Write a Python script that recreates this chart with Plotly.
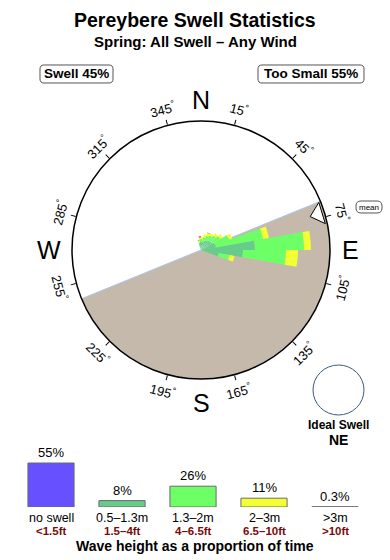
import math
import plotly.graph_objects as go

W, H = 390, 560
FONT = "Liberation Sans, Arial, Helvetica, sans-serif"

# ---------------- data ----------------
title_text = "Pereybere Swell Statistics"
subtitle_text = "Spring: All Swell – Any Wind"
swell_pct = 45
too_small_pct = 55
ideal_swell = "NE"

# swell rose: direction bins (deg, centre) and stacked percentages per height band
directions = [345, 355, 5, 15, 25, 35, 45, 55, 65, 75, 85, 95, 105]
band_05_13 = [0.56, 0.74, 0.74, 0.84, 0.93, 1.02, 1.12, 1.21, 1.40, 1.40, 5.02, 3.90, 1.67]
band_13_2 = [0.19, 0.28, 0.28, 0.37, 0.47, 0.56, 0.65, 0.84, 1.40, 4.45, 4.56, 4.00, 1.02]
band_2_3 = [0.14, 0.14, 0.19, 0.28, 0.28, 0.23, 0.28, 0.28, 0.28, 0.56, 0.65, 1.12, 0.47]
band_3p = [0.05, 0.14, 0.00, 0.00, 0.05, 0.00, 0.00, 0.00, 0.00, 0.00, 0.00, 0.00, 0.00]
band_names = ["0.5–1.3m", "1.3–2m", "2–3m", ">3m"]
rose_max = 12.0

land_start = 67.8   # land sector from this bearing clockwise ...
land_end = 247.8    # ... to this bearing
mean_dir = 73

tick_dirs = [15, 45, 75, 105, 135, 165, 195, 225, 255, 285, 315, 345]
cardinals = ["N", "E", "S", "W"]
cardinal_dirs = [0, 90, 180, 270]

# summary bars
categories = ["no swell", "0.5–1.3m", "1.3–2m", "2–3m", ">3m"]
feet_labels = ["<1.5ft", "1.5–4ft", "4–6.5ft", "6.5–10ft", ">10ft"]
proportions = [55, 8, 26, 11, 0.3]
prop_labels = ["55%", "8%", "26%", "11%", "0.3%"]

# ---------------- styles ----------------
band_colors = ["#66cc8a", "#6cff66", "#f4ff33", "#ee5533"]
summary_colors = ["#6650ff", "#66cc8a", "#6cff66", "#f4ff33", "#d8a8a8"]
land_color = "#c5b9ac"
coast_color = "#a9c8ea"
dark_red = "#7a0a0a"

CX, CY, CR = 201, 250, 129   # compass centre / radius in pixels


def px(x):
    return x / W


def py(y):
    return 1 - y / H


fig = go.Figure()

# land sector
fig.add_trace(go.Barpolar(
    r=[rose_max], theta=[(land_start + land_end) / 2], width=[land_end - land_start],
    marker=dict(color=land_color, line=dict(color=coast_color, width=1)),
    hoverinfo="skip", showlegend=False))

# rose bars
for vals, name, col in zip([band_05_13, band_13_2, band_2_3, band_3p], band_names, band_colors):
    fig.add_trace(go.Barpolar(
        r=vals, theta=directions, width=[10] * len(directions), name=name,
        marker=dict(color=col, line=dict(width=0)), showlegend=False))

# mean arrow
fig.add_trace(go.Scatterpolar(
    r=[rose_max * 0.885, rose_max * 0.985, rose_max * 0.985, rose_max * 0.885],
    theta=[mean_dir, mean_dir - 5, mean_dir + 5, mean_dir],
    mode="lines", fill="toself", fillcolor="white",
    line=dict(color="black", width=1), showlegend=False, hoverinfo="skip"))

# summary bars
fig.add_trace(go.Bar(
    x=list(range(len(categories))), y=proportions, width=0.65,
    marker=dict(color=summary_colors, line=dict(color="#6a6a6a", width=1)),
    xaxis="x", yaxis="y", showlegend=False, cliponaxis=False))

ann = []
shapes = []


def text_at(x, y, text, size, color="black", angle=0, xref="paper", pad=1):
    return dict(x=x, y=y, xref=xref, yref="paper", text=text, textangle=angle,
                xanchor="center", yanchor="middle", showarrow=False, borderpad=pad,
                font=dict(size=size, color=color, family=FONT))


# titles
ann.append(text_at(0.5, py(20), "<b>%s</b>" % title_text, 19.5))
ann.append(text_at(0.5, py(42), "<b>%s</b>" % subtitle_text, 15))


def rounded_box(x0, y0, x1, y1, rad=4):
    p = []
    p.append("M %f,%f" % (px(x0 + rad), py(y0)))
    p.append("L %f,%f" % (px(x1 - rad), py(y0)))
    p.append("Q %f,%f %f,%f" % (px(x1), py(y0), px(x1), py(y0 + rad)))
    p.append("L %f,%f" % (px(x1), py(y1 - rad)))
    p.append("Q %f,%f %f,%f" % (px(x1), py(y1), px(x1 - rad), py(y1)))
    p.append("L %f,%f" % (px(x0 + rad), py(y1)))
    p.append("Q %f,%f %f,%f" % (px(x0), py(y1), px(x0), py(y1 - rad)))
    p.append("L %f,%f" % (px(x0), py(y0 + rad)))
    p.append("Q %f,%f %f,%f Z" % (px(x0), py(y0), px(x0 + rad), py(y0)))
    return dict(type="path", xref="paper", yref="paper", path=" ".join(p),
                line=dict(color="#555555", width=1), fillcolor="white", layer="below")


shapes.append(rounded_box(40, 65, 113, 83))
shapes.append(rounded_box(258, 65, 364, 83))
shapes.append(rounded_box(356, 201, 382, 213, rad=5))
ann.append(text_at(px(76.5), py(74), "<b>Swell %d%%</b>" % swell_pct, 13.5))
ann.append(text_at(px(311), py(74), "<b>Too Small %d%%</b>" % too_small_pct, 13.5))
ann.append(text_at(px(369), py(207), "mean", 8))

# cardinal letters
card_r = [150, 149, 153, 152]
for c, d, rr in zip(cardinals, cardinal_dirs, card_r):
    a = math.radians(d)
    ann.append(text_at(px(CX + rr * math.sin(a)), py(CY - rr * math.cos(a)), c, 25))

# degree tick labels
for d in tick_dirs:
    a = math.radians(d)
    rr = 146
    ang = ((d + 90) % 180) - 90
    ann.append(text_at(px(CX + rr * math.sin(a)), py(CY - rr * math.cos(a)),
                       "%d<sup>°</sup>" % d, 13, angle=ang))

# ideal swell
shapes.append(dict(type="circle", xref="paper", yref="paper",
                   x0=px(313), x1=px(364), y0=py(415), y1=py(365),
                   line=dict(color="#3d5a7d", width=1)))
ann.append(text_at(px(338.5), py(425), "<b>Ideal Swell</b>", 12, pad=0))
ann.append(text_at(px(338.5), py(440), "<b>%s</b>" % ideal_swell, 14, pad=0))

# summary labels
for i, (cat, ft, val, lab) in enumerate(zip(categories, feet_labels, proportions, prop_labels)):
    ann.append(dict(x=i, y=val, xref="x", yref="y", text=lab, xanchor="center",
                    yanchor="bottom", yshift=1, showarrow=False,
                    font=dict(size=13, color="black", family=FONT)))
    ann.append(text_at(i, py(517.5), cat, 12.5, xref="x", pad=0))
    ann.append(text_at(i, py(530.5), "<b>%s</b>" % ft, 11.5, color=dark_red, xref="x", pad=0))
ann.append(text_at(0.5, py(545.5), "<b>Wave height as a proportion of time</b>", 14, pad=0))

fig.update_layout(
    width=W, height=H, autosize=False,
    margin=dict(l=0, r=0, t=0, b=0, pad=0),
    paper_bgcolor="white", plot_bgcolor="white",
    font=dict(family=FONT, color="black"),
    showlegend=False,
    polar=dict(
        domain=dict(x=[px(CX - CR), px(CX + CR)], y=[py(CY + CR), py(CY - CR)]),
        bgcolor="white",
        barmode="stack",
        radialaxis=dict(range=[0, rose_max], visible=False, showgrid=False),
        angularaxis=dict(rotation=90, direction="clockwise", showgrid=False,
                         showline=True, linecolor="black", linewidth=1.5,
                         ticks="outside", ticklen=5, tickcolor="black", tickwidth=1,
                         tickmode="array", tickvals=tick_dirs, showticklabels=False),
    ),
    xaxis=dict(domain=[px(15.5), px(370.5)], range=[-0.5, 4.5], visible=False, fixedrange=True),
    yaxis=dict(domain=[py(507), py(459)], range=[0, 60], visible=False, fixedrange=True),
    annotations=ann,
    shapes=shapes,
)

fig.write_html("out.html")
